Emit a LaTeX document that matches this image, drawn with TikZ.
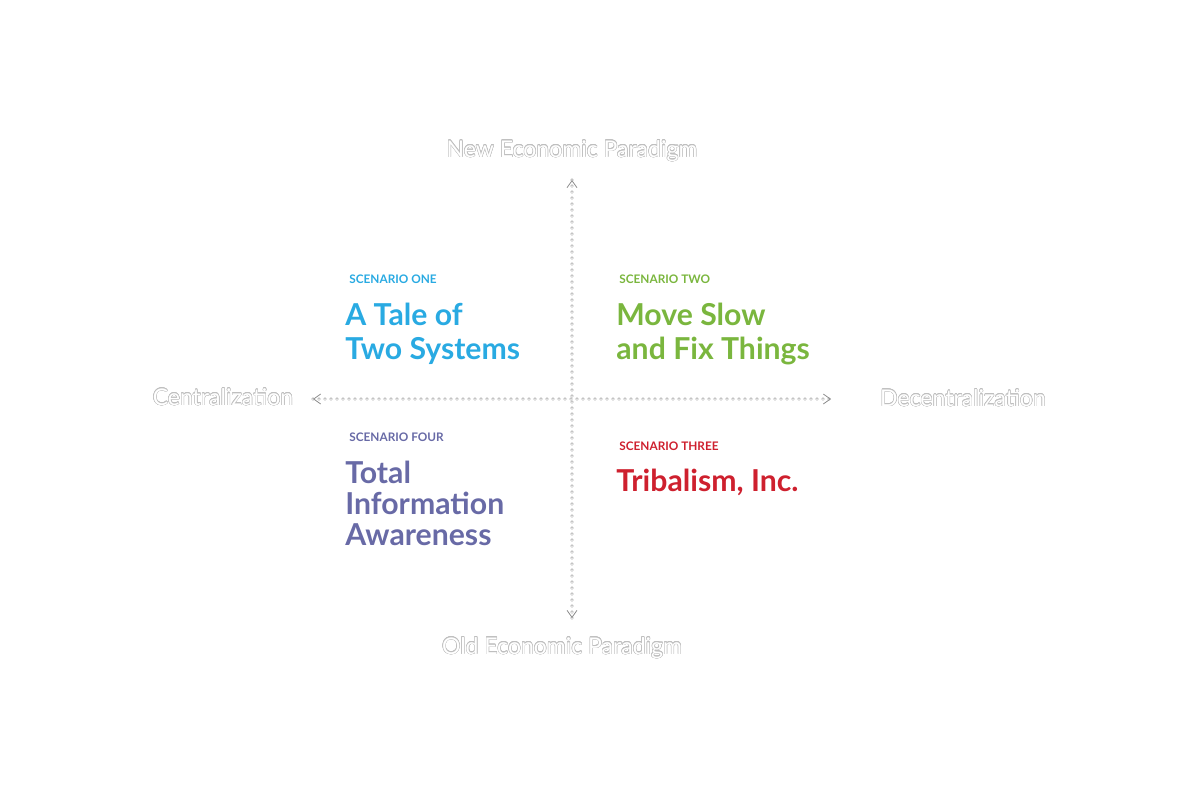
\documentclass[tikz,border=0pt]{standalone}
\usepackage{fontspec}
\setmainfont{Lato}
\usepackage{contour}
\contourlength{0.22pt}
\contournumber{16}
\usetikzlibrary{arrows.meta, positioning}
\definecolor{oneblue}{RGB}{41,170,226}
\definecolor{twogreen}{RGB}{122,182,62}
\definecolor{threered}{RGB}{206,32,46}
\definecolor{fourpurple}{RGB}{104,106,166}

\begin{document}
\begin{tikzpicture}[x=0.5pt, y=-0.5pt,
        axis/.style={draw=black!45, line width=0.35pt, double=white, double distance=1pt, dash pattern=on 0pt off 3pt, line cap=round},
        tips/.style={draw=black!45, line width=0.4pt, dash pattern=on 0pt off 2000pt, {Straight Barb[length=3.5pt, width=5pt]}-{Straight Barb[length=3.5pt, width=5pt]}},
        axislabel/.style={text=white, inner sep=0pt, font=\fontsize{11.5}{13}\selectfont},
        tag/.style={inner sep=0pt, anchor=west, font=\fontsize{5.9}{6}\selectfont\bfseries},
        title/.style={inner sep=0pt, align=left, font=\fontsize{15.1}{16.8}\selectfont\bfseries}
    ]
    \useasboundingbox (0,0) rectangle (1200,800);

    % Axis end points
    \coordinate (top) at (572,180);
    \coordinate (bottom) at (572,618);
    \coordinate (left) at (313,399);
    \coordinate (right) at (831,399);

    % Dotted axes
    \draw[axis] (bottom) -- (top);
    \draw[axis] (left) -- (right);
    \draw[tips] (bottom) -- (top);
    \draw[tips] (left) -- (right);

    % Axis labels
    \node[axislabel] (new) at (572,151) {\contour{black!25}{New Economic Paradigm}};
    \node[axislabel] (old) at (562,648) {\contour{black!25}{Old Economic Paradigm}};
    \node[axislabel] (central) at (223,397) {\contour{black!25}{Centralization}};
    \node[axislabel] (decentral) at (963,398) {\contour{black!25}{Decentralization}};

    % Scenarios
    \node[tag, text=oneblue] (tagone) at (349,279) {SCENARIO ONE};
    \node[title, text=oneblue, below=9.5pt of tagone.south west, anchor=north west, xshift=-2pt] (one) {A Tale of\\Two Systems};

    \node[tag, text=twogreen] (tagtwo) at (619,279) {SCENARIO TWO};
    \node[title, text=twogreen, below=9.5pt of tagtwo.south west, anchor=north west, xshift=-1.5pt] (two) {Move Slow\\and Fix Things};

    \node[tag, text=threered] (tagthree) at (619,446) {SCENARIO THREE};
    \node[title, text=threered, below=9pt of tagthree.south west, anchor=north west, xshift=-1.5pt] (three) {Tribalism, Inc.};

    \node[tag, text=fourpurple] (tagfour) at (349,437) {SCENARIO FOUR};
    \node[title, text=fourpurple, font=\fontsize{15.1}{15.5}\selectfont\bfseries, below=9.5pt of tagfour.south west, anchor=north west, xshift=-2pt] (four) {Total\\Information\\Awareness};

\end{tikzpicture}
\end{document}
